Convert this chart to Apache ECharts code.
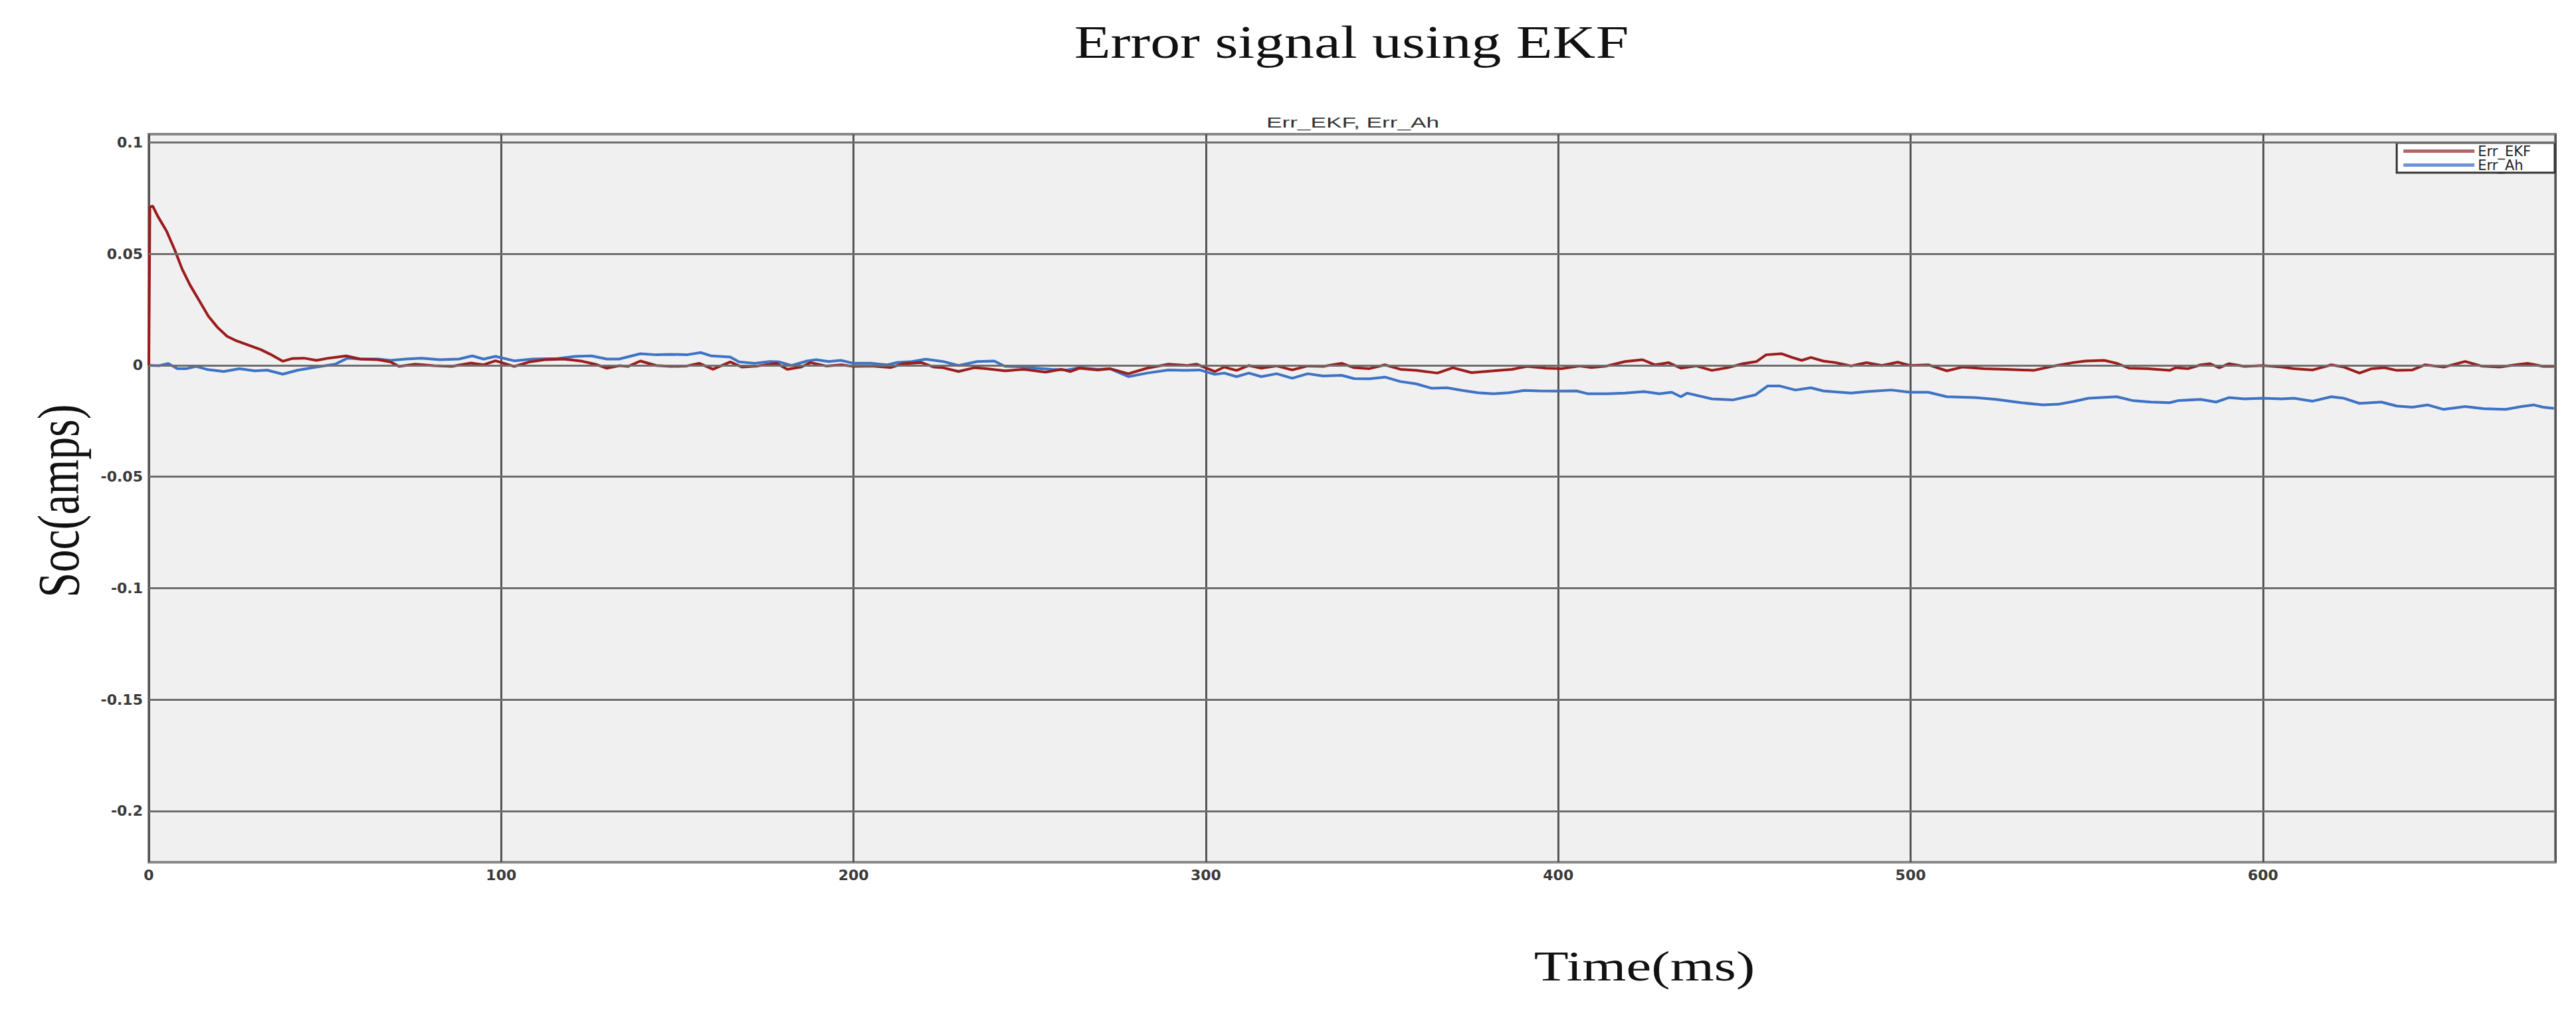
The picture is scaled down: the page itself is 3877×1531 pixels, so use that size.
<!DOCTYPE html>
<html>
<head>
<meta charset="utf-8">
<script src="https://cdn.jsdelivr.net/npm/echarts@6/dist/echarts.min.js"></script>
<style>
html,body{margin:0;padding:0;background:#fff;}
#chart{width:3877px;height:1531px;}
</style>
</head>
<body>
<div id="chart"></div>
<script>
// ---- data ----
const chartTitle = 'Error signal using EKF';
const scopeTitle = 'Err_EKF, Err_Ah';
const xName = 'Time(ms)';
const yName = 'Soc(amps)';
const seriesNames = ['Err_EKF', 'Err_Ah'];
const xTicks = [0, 100, 200, 300, 400, 500, 600];
const yTicks = [0.1, 0.05, 0, -0.05, -0.1, -0.15, -0.2];

const ekfTime = [0, 0.3, 1.1, 2.5, 5.1, 7.3, 9.5, 11.7, 14.3, 16.9, 19.5, 22.2, 24.8, 28.3, 31.8, 34.4, 38, 40.6, 44, 47.6, 51, 56, 60, 65, 68.6, 71, 75.6, 81, 86, 91.4, 95, 98.4, 103.7, 108, 112.4, 117.7, 123, 126.6, 130, 133.5, 136, 139.5, 144, 148.3, 152.7, 156.2, 160.1, 165, 168.4, 172.8, 178.1, 181.2, 185.1, 187.8, 192.2, 196.6, 200, 205.2, 210.5, 214, 219.3, 222.8, 225.4, 229.8, 234.2, 237.7, 243, 248.3, 254.5, 258.9, 261.5, 264.1, 269.4, 272.7, 278, 283.3, 289.4, 294.7, 297.3, 302.6, 305.2, 308.7, 312.2, 315.7, 320.1, 324.5, 328.9, 333.3, 338.5, 342.1, 346.4, 350.8, 355.2, 359.6, 365.7, 370.1, 375.4, 381.6, 386.9, 391.2, 396.5, 400.9, 406.2, 409.4, 413.8, 419, 423.9, 427.4, 431.3, 434.8, 439.2, 443.6, 448, 452.4, 456.3, 459, 463.3, 466.4, 469.1, 471.7, 475.2, 478.7, 483.1, 487.5, 491.9, 496.3, 499.8, 505, 510.3, 514.7, 520.8, 527, 534.9, 540.1, 546.1, 549.6, 554.9, 558.5, 562, 567.3, 573.5, 575.2, 578.8, 582.3, 585, 587.6, 590.3, 594.7, 600, 605.3, 608.8, 614.1, 619.4, 623, 627.4, 630.9, 634.5, 638, 642.4, 646, 651.3, 657.4, 661.9, 667.2, 671.6, 675.1, 679.5, 682.6];
const ekfErr = [0, 0.071, 0.0715, 0.067, 0.060, 0.052, 0.043, 0.036, 0.029, 0.022, 0.017, 0.013, 0.011, 0.009, 0.007, 0.005, 0.0018, 0.003, 0.0032, 0.0022, 0.0032, 0.0042, 0.0028, 0.0025, 0.0015, -0.0005, 0.0005, -0.0002, -0.0005, 0.001, 0.0002, 0.002, -0.0005, 0.0015, 0.0025, 0.0028, 0.0018, 0.0005, -0.0013, -0.0002, -0.0005, 0.0019, -0.0001, -0.0005, -0.0003, 0.0009, -0.0018, 0.0015, -0.0008, -0.0003, 0.0009, -0.0018, -0.0008, 0.0012, -0.0003, 0.0002, -0.0005, -0.0003, -0.001, 0.0007, 0.0012, -0.0008, -0.0011, -0.0028, -0.0011, -0.0015, -0.0025, -0.0018, -0.0031, -0.0018, -0.0028, -0.0013, -0.0021, -0.0015, -0.0038, -0.0013, 0.0005, -0.0001, 0.0005, -0.0028, -0.0008, -0.0023, -0.0001, -0.0013, -0.0003, -0.0021, -0.0003, -0.0005, 0.0009, -0.0011, -0.0015, 0.0002, -0.0018, -0.0023, -0.0035, -0.0011, -0.0033, -0.0025, -0.0018, -0.0005, -0.0013, -0.0015, -0.0003, -0.001, -0.0003, 0.0017, 0.0025, 0.0002, 0.0012, -0.0013, -0.0003, -0.0023, -0.0011, 0.0007, 0.0017, 0.0047, 0.0052, 0.0035, 0.0022, 0.0035, 0.0019, 0.0012, -0.0003, 0.0012, -0.0001, 0.0014, -0.0001, 0.0002, -0.0025, -0.0008, -0.0015, -0.0018, -0.0023, -0.0005, 0.0012, 0.0019, 0.0022, 0.0009, -0.0013, -0.0015, -0.0023, -0.0011, -0.0015, 0.0002, 0.0007, -0.0011, 0.0007, -0.0005, -0.0001, -0.0008, -0.0015, -0.0021, 0.0002, -0.0008, -0.0035, -0.0015, -0.0011, -0.0023, -0.0021, 0.0002, -0.0008, 0.0017, -0.0003, -0.0008, 0.0002, 0.0009, -0.0005, -0.0005];

const ahTime = [0, 2.9, 5.5, 8.1, 10.8, 13.4, 16.9, 21.3, 25.7, 30, 33.6, 38, 42.3, 47.6, 52.9, 56.4, 60, 65, 68.6, 73, 77.4, 82.6, 88, 91.8, 95, 98.4, 103.7, 109, 116, 121, 125.6, 130, 133.5, 139.5, 144, 148.3, 152.7, 156.6, 159.7, 165, 167.5, 171.9, 176.3, 178.9, 182.4, 186.8, 189.4, 192.9, 196.4, 199.9, 205.2, 209.6, 212.2, 216.6, 220.5, 225.4, 229.8, 235.1, 239.9, 243, 247.4, 251.8, 256.2, 260.6, 264.1, 269.4, 272.7, 278, 283.3, 289.4, 294.7, 298.2, 302.6, 305.2, 308.7, 312.2, 315.7, 320.1, 324.5, 328.9, 333.3, 338.5, 342.1, 346.4, 350.8, 355.2, 359.6, 364, 368.4, 372.8, 377.2, 381.6, 386, 390.3, 394.7, 400, 405.2, 408.5, 413.8, 419, 424.3, 428.7, 432.2, 434.8, 436.6, 443.6, 449.7, 455.9, 459.4, 462.9, 467.3, 471.7, 475.2, 483.1, 487.5, 494.5, 499.8, 505, 510.3, 518.2, 524.3, 531.4, 537.5, 541.9, 546.1, 550.5, 558.5, 562.9, 568.2, 573.5, 576.1, 582.3, 586.7, 590.3, 594.7, 600, 605.3, 608.8, 614.1, 619.4, 623, 627.4, 633.6, 638, 642.4, 646.8, 651.3, 657.4, 662.7, 668.9, 673.4, 676.9, 679.5, 682.6];
const ahErr = [0, -0.0002, 0.0008, -0.0015, -0.0015, -0.0005, -0.002, -0.0028, -0.0015, -0.0025, -0.0022, -0.004, -0.0022, -0.0008, 0.0005, 0.0032, 0.0028, 0.0028, 0.0022, 0.0028, 0.0032, 0.0025, 0.0028, 0.0042, 0.0028, 0.004, 0.002, 0.0028, 0.003, 0.004, 0.0042, 0.0028, 0.0028, 0.0052, 0.0047, 0.0049, 0.0047, 0.0057, 0.0042, 0.0037, 0.0015, 0.0009, 0.0017, 0.0015, -0.0001, 0.0019, 0.0025, 0.0017, 0.0022, 0.0009, 0.0009, 0.0002, 0.0012, 0.0017, 0.0027, 0.0017, -0.0001, 0.0017, 0.0019, -0.0005, -0.0006, -0.0013, -0.0018, -0.0021, -0.0011, -0.0018, -0.0015, -0.0051, -0.0035, -0.0021, -0.0023, -0.0021, -0.0041, -0.0035, -0.0051, -0.0035, -0.0051, -0.0038, -0.0058, -0.0038, -0.0048, -0.0045, -0.006, -0.0061, -0.0053, -0.0073, -0.0083, -0.0103, -0.0101, -0.0113, -0.0123, -0.0128, -0.0123, -0.0113, -0.0115, -0.0116, -0.0115, -0.0128, -0.0128, -0.0125, -0.0118, -0.0128, -0.0121, -0.0141, -0.0125, -0.0151, -0.0155, -0.0133, -0.0093, -0.0093, -0.0111, -0.0101, -0.0115, -0.0125, -0.0118, -0.0111, -0.0121, -0.0121, -0.0141, -0.0145, -0.0153, -0.0168, -0.0178, -0.0175, -0.0163, -0.0148, -0.0141, -0.0158, -0.0165, -0.0168, -0.0158, -0.0153, -0.0165, -0.0145, -0.0151, -0.0148, -0.0151, -0.0148, -0.0161, -0.0141, -0.0148, -0.0171, -0.0165, -0.0183, -0.0188, -0.0178, -0.0198, -0.0185, -0.0195, -0.0198, -0.0185, -0.0178, -0.0188, -0.0193];

// ---- chart ----
const pair = (t, v) => t.map((x, i) => [x, v[i]]);
const chart = echarts.init(document.getElementById('chart'), null, {renderer: 'svg'});

const option = {
  animation: false,
  backgroundColor: '#ffffff',
  grid: {
    left: 224, right: 31, top: 202, bottom: 233,
    show: true, backgroundColor: '#f0f0f0',
    borderColor: '#8a8a8a', borderWidth: 4
  },
  legend: {
    right: 32, top: 215, orient: 'vertical',
    backgroundColor: '#ffffff', borderColor: '#333', borderWidth: 3,
    padding: [2, 36, 1, 10], itemGap: 0,
    icon: 'rect', itemWidth: 107, itemHeight: 5,
    textStyle: {fontFamily: 'DejaVu Sans', fontSize: 21, color: '#222'},
    data: [
      {name: seriesNames[0], itemStyle: {color: '#b46464'}},
      {name: seriesNames[1], itemStyle: {color: '#6f93d6'}}
    ]
  },
  xAxis: {
    type: 'value', min: 0, max: 683, interval: 100,
    axisLine: {show: false}, axisTick: {show: false},
    axisLabel: {showMaxLabel: false, margin: 8, fontFamily: 'DejaVu Sans', fontSize: 22, fontWeight: 'bold', color: '#3a3a3a'},
    splitLine: {show: true, lineStyle: {color: '#555', width: 3}}
  },
  yAxis: {
    type: 'value', min: -0.223, max: 0.1037,
    axisLine: {show: false}, axisTick: {show: false},
    axisLabel: {customValues: yTicks, margin: 9, fontFamily: 'DejaVu Sans', fontSize: 22, fontWeight: 'bold', color: '#3a3a3a'},
    splitLine: {show: false}
  },
  graphic: [
    {type: 'text', x: 2034, y: 64, scaleX: 1.3, z: 10,
     style: {text: chartTitle, font: '69px "Liberation Serif"', fill: '#111', textAlign: 'center', textVerticalAlign: 'middle'}},
    {type: 'text', x: 2036, y: 184, scaleX: 1.6, z: 10,
     style: {text: scopeTitle, font: '22px "Liberation Sans"', fill: '#333', textAlign: 'center', textVerticalAlign: 'middle'}},
    {type: 'text', x: 2475, y: 1454, scaleX: 1.33, z: 10,
     style: {text: xName, font: '64px "Liberation Serif"', fill: '#111', textAlign: 'center', textVerticalAlign: 'middle'}},
    {type: 'text', x: 88, y: 754, rotation: Math.PI / 2, scaleY: 1.3, z: 10,
     style: {text: yName, font: '68px "Liberation Serif"', fill: '#111', textAlign: 'center', textVerticalAlign: 'middle'}}
  ],
  series: [
    {
      name: 'grid', type: 'line', data: [], z: 1, silent: true,
      markLine: {
        silent: true, symbol: ['none', 'none'], label: {show: false},
        lineStyle: {color: '#6e6e6e', width: 3, type: 'solid'},
        data: yTicks.map(v => ({yAxis: v}))
      }
    },
    {
      name: seriesNames[1], type: 'line', data: pair(ahTime, ahErr), z: 3,
      showSymbol: false, color: '#3d72c4',
      lineStyle: {color: '#3d72c4', width: 4}
    },
    {
      name: seriesNames[0], type: 'line', data: pair(ekfTime, ekfErr), z: 4,
      showSymbol: false, color: '#9a1c1c',
      lineStyle: {color: '#9a1c1c', width: 4}
    }
  ]
};
chart.setOption(option);
</script>
</body>
</html>
